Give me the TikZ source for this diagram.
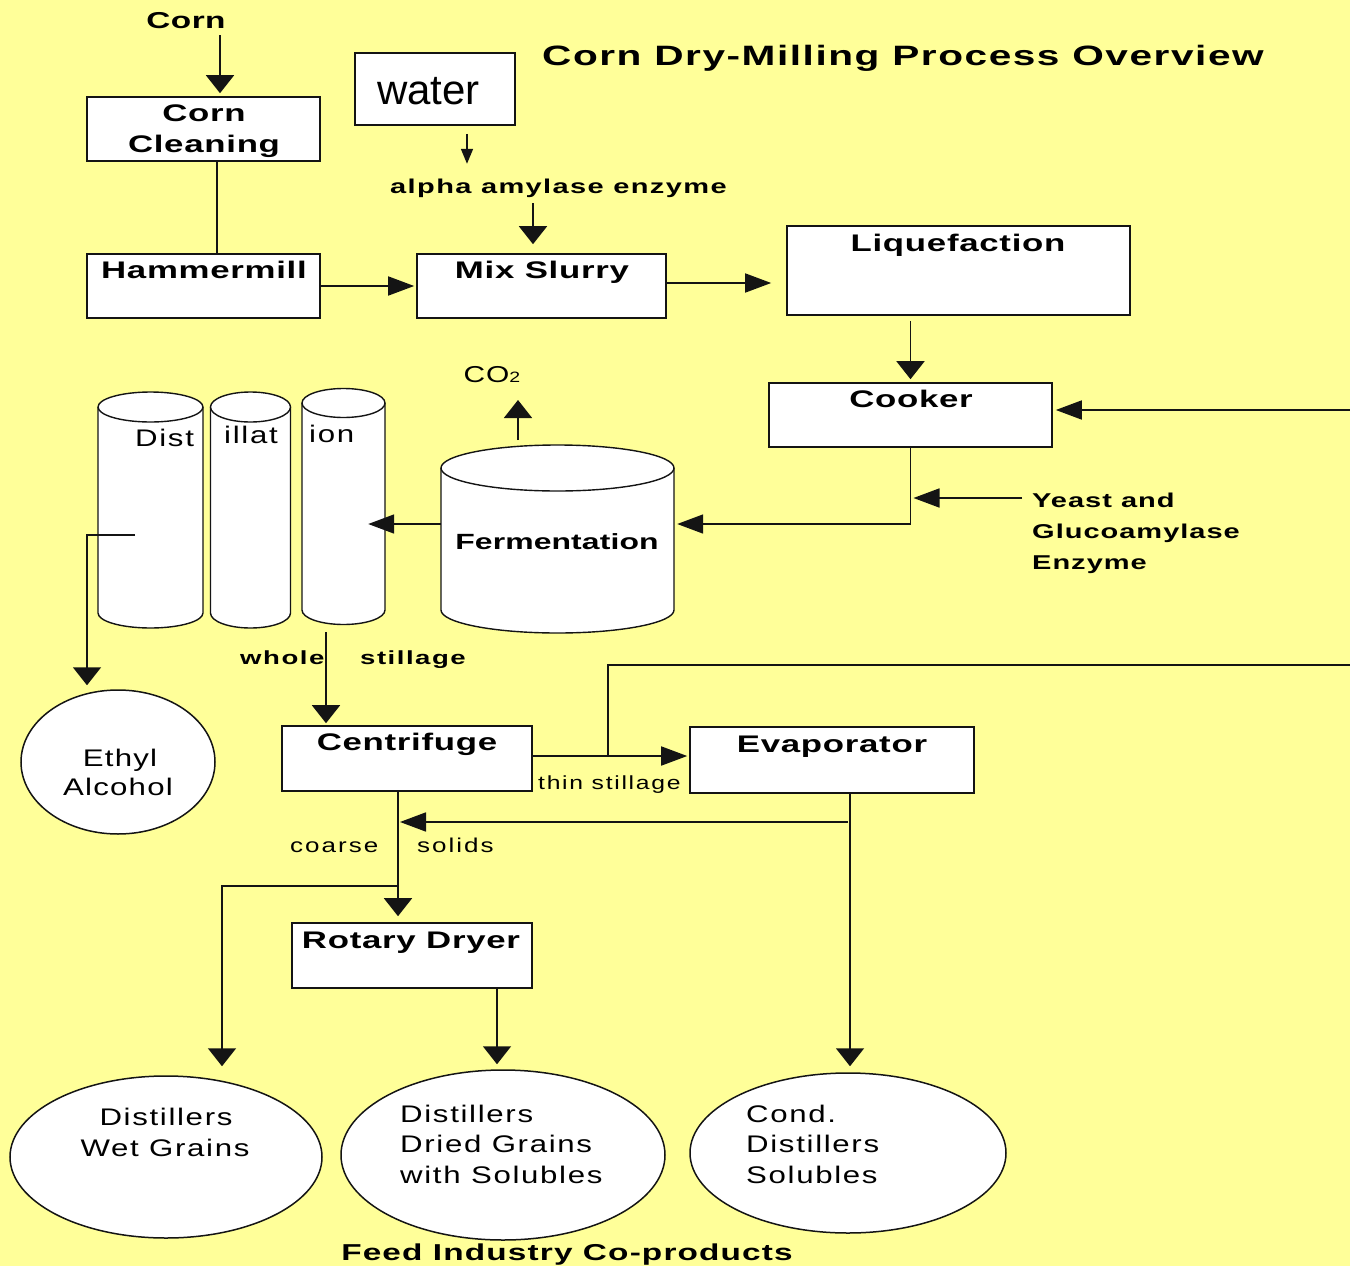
\documentclass[tikz,border=0pt]{standalone}
\usepackage{fontspec}
\setmainfont{Liberation Sans}
\newfontfamily\boldwide{Liberation Sans}[FakeStretch=1.45]
\newfontfamily\regwide{Liberation Sans}[FakeStretch=1.3]
\usetikzlibrary{arrows.meta,shapes.geometric,calc}
\definecolor{bg}{RGB}{255,255,153}
\definecolor{ln}{RGB}{20,20,20}
\newcommand\fb[2]{\fontsize{#1}{#1}\boldwide\bfseries\addfontfeatures{LetterSpace=#2}}
\newcommand\fr[2]{\fontsize{#1}{#1}\regwide\addfontfeatures{LetterSpace=#2}}
\newcommand\cylshape[5]{%
  \fill[white] (#1-#2,#3) rectangle (#1+#2,#4);
  \fill[white] (#1,#4) ellipse[x radius=#2,y radius=#5];
  \draw[cylline] (#1-#2,#3) -- (#1-#2,#4) arc[start angle=180,end angle=0,x radius=#2,y radius=#5] -- (#1+#2,#3);
  \draw[cylline,fill=white] (#1,#3) ellipse[x radius=#2,y radius=#5];
}
\begin{document}
\begin{tikzpicture}[x=1pt,y=-1pt,
  box/.style={draw=ln,fill=white,line width=1.6pt,inner sep=0pt},
  oval/.style={ellipse,draw=ln,fill=white,line width=1.5pt,inner sep=0pt},
  cylline/.style={draw=ln,line width=1.4pt},
  con/.style={draw=ln,line width=1.7pt},
  varr/.style={con,-{Triangle[length=18pt,width=28pt]}},
  harr/.style={con,-{Triangle[length=26pt,width=19pt]}},
  sarr/.style={con,-{Triangle[length=15pt,width=12pt]}},
  txt/.style={inner sep=0pt,anchor=base,text=black},
  ltxt/.style={inner sep=0pt,anchor=base west,text=black},
  bl/.style={txt,font=\fb{24}{3}},
]
\useasboundingbox (0,0) rectangle (1350,1266);
\fill[bg] (0,0) rectangle (1350,1266);

% cylinders
\cylshape{150.5}{52.5}{407}{613}{15}
\cylshape{250.5}{40}{407}{613}{15}
\cylshape{343.5}{41.5}{403}{610}{14.5}
\cylshape{557.5}{116.5}{468}{610}{23}
\node[inner sep=0pt,minimum width=105pt,minimum height=236pt] (d1) at (150.5,510) {};
\node[inner sep=0pt,minimum width=80pt,minimum height=236pt] (d2) at (250.5,510) {};
\node[inner sep=0pt,minimum width=83pt,minimum height=236pt] (d3) at (343.5,524) {};
\node[inner sep=0pt,minimum width=233pt,minimum height=188pt] (ferm) at (557.5,524) {};

% boxes
\node[box,minimum width=233pt,minimum height=64pt] (cc) at (203.5,129) {};
\node[box,minimum width=233pt,minimum height=64pt] (hm) at (203.5,286) {};
\node[box,minimum width=249pt,minimum height=64pt] (ms) at (541.5,286) {};
\node[box,minimum width=160pt,minimum height=72pt] (water) at (435,89) {};
\node[box,minimum width=343pt,minimum height=89pt] (liq) at (958.5,270.5) {};
\node[box,minimum width=283pt,minimum height=64pt] (cook) at (910.5,415) {};
\node[box,minimum width=250pt,minimum height=65pt] (cent) at (407,758.5) {};
\node[box,minimum width=284pt,minimum height=66pt] (evap) at (832,760) {};
\node[box,minimum width=240pt,minimum height=65pt] (rd) at (412,955.5) {};

% ellipses
\node[oval,minimum width=194pt,minimum height=144pt] (eth) at (118,762) {};
\node[oval,minimum width=312pt,minimum height=162pt] (wet) at (166,1157) {};
\node[oval,minimum width=324pt,minimum height=170pt] (dry) at (503,1155) {};
\node[oval,minimum width=316pt,minimum height=160pt] (cond) at (848,1153) {};

% free ends
\coordinate (cornA) at (220,35);
\coordinate (alA) at (533,203);
\coordinate (rin) at (1350,410);
\coordinate (ys) at (1022,498);
\coordinate (co2A) at (518,440);
\coordinate (d1o) at (135,535);
\coordinate (d1c) at (87,535);
\coordinate (d3o) at (326,632);
\coordinate (rin2) at (1350,665);
\coordinate (tj) at (608,756);
\coordinate (ej) at (848,822);
\coordinate (wj) at (398,886);
\coordinate (wk) at (222,886);

% connectors
\draw[varr,shorten >=3pt] (cornA) -- (cornA |- cc.north);
\draw[con] ([xshift=13.5pt]cc.south) -- ([xshift=13.5pt]hm.north);
\draw[harr,shorten >=2pt] (hm.east) -- (ms.west);
\draw[sarr] ([xshift=32pt,yshift=-8pt]water.south) -- ++(0,30);
\draw[varr,shorten >=9pt] (alA) -- (alA |- ms.north);
\draw[harr,shorten >=15pt] ([yshift=3pt]ms.east) -- ([yshift=3pt]ms.east -| liq.west);
\draw[varr,shorten <=5pt,shorten >=3pt] (cook.north |- liq.south) -- (cook.north);
\draw[harr,shorten >=3pt] (rin) -- (rin -| cook.east);
\draw[harr,shorten >=3pt] (cook.south) |- (ferm.east);
\draw[harr,shorten >=3pt] (ys) -- (ys -| cook.south);
\draw[varr] (co2A) -- ++(0,-40);
\draw[harr,shorten >=-17pt] (ferm.west) -- (d3.east);
\draw[varr,shorten >=4pt] (d1o) -- (d1c) -- (d1c |- eth.north);
\draw[varr,shorten >=2pt] (d3o) -- (d3o |- cent.north);
\draw[harr,shorten >=2pt] ([yshift=2.5pt]cent.east) -- ([yshift=2.5pt]cent.east -| evap.west);
\draw[con] (rin2) -| (tj);
\draw[varr,shorten >=6pt] ([xshift=-9pt]cent.south) -- ([xshift=-9pt]cent.south |- rd.north);
\draw[harr] (ej) -- ([xshift=-7pt]cent.south |- ej);
\draw[varr,shorten >=9pt] (wj) -- (wk) -- (wk |- wet.north);
\draw[varr,shorten >=5pt] ([xshift=85pt]rd.south) -- ([xshift=85pt]rd.south |- dry.north);
\draw[varr,shorten >=6pt] ([xshift=18pt]evap.south) -- ([xshift=18pt]evap.south |- cond.north);

% texts
\node[ltxt,font=\fb{28}{5.5}] (title) at (542,65) {Corn Dry-Milling Process Overview};
\node[txt,font=\fb{23}{2}] (cornT) at (186,28) {Corn};
\node[bl] (ccA) at (204,121) {Corn};
\node[bl] (ccB) at (204,152) {Cleaning};
\node[bl] (hmT) at (204,278) {Hammermill};
\node[bl] (msT) at (542,278) {Mix Slurry};
\node[ltxt,font=\fontsize{42}{42}\selectfont] (wt) at (377,104) {water};
\node[ltxt,font=\fb{20}{7}] (alpha) at (390,193) {alpha amylase enzyme};
\node[bl] (liqT) at (958,251) {Liquefaction};
\node[bl] (cookT) at (911,407) {Cooker};
\node[ltxt,font=\fb{20}{5}] (yeA) at (1032,507) {Yeast and};
\node[ltxt,font=\fb{20}{5}] (yeB) at (1032,538) {Glucoamylase};
\node[ltxt,font=\fb{20}{5}] (yeC) at (1032,569) {Enzyme};
\node[txt,font=\fr{23}{4}] (co2) at (492,382) {CO{\fontsize{15}{15}\selectfont 2}};
\node[ltxt,font=\fr{24}{7}] (dT1) at (135,446) {Dist};
\node[ltxt,font=\fr{24}{7}] (dT2) at (224,443) {illat};
\node[ltxt,font=\fr{24}{7}] (dT3) at (309,442) {ion};
\node[txt,font=\fb{22}{0.5}] (fermT) at (557,549) {Fermentation};
\node[ltxt,font=\fb{19}{8}] (wsA) at (240,664) {whole};
\node[ltxt,font=\fb{19}{8}] (wsB) at (360,664) {stillage};
\node[txt,font=\fr{24}{5}] (ethA) at (120,766) {Ethyl};
\node[txt,font=\fr{24}{5}] (ethB) at (118,795) {Alcohol};
\node[bl] (centT) at (407,750) {Centrifuge};
\node[bl] (evapT) at (832,752) {Evaporator};
\node[ltxt,font=\fr{19}{9}] (thin) at (538,789) {thin stillage};
\node[ltxt,font=\fr{20}{10}] (coarse) at (290,852) {coarse};
\node[ltxt,font=\fr{20}{10}] (solids) at (417,852) {solids};
\node[bl] (rdT) at (411,948) {Rotary Dryer};
\node[txt,font=\fr{24}{7}] (wetA) at (166,1125) {Distillers};
\node[txt,font=\fr{24}{7}] (wetB) at (165,1156) {Wet Grains};
\node[ltxt,font=\fr{24}{7}] (dryA) at (400,1122) {Distillers};
\node[ltxt,font=\fr{24}{7}] (dryB) at (400,1152) {Dried Grains};
\node[ltxt,font=\fr{24}{7}] (dryC) at (400,1183) {with Solubles};
\node[ltxt,font=\fr{24}{7}] (condA) at (746,1122) {Cond.};
\node[ltxt,font=\fr{24}{7}] (condB) at (746,1152) {Distillers};
\node[ltxt,font=\fr{24}{7}] (condC) at (746,1183) {Solubles};
\node[txt,font=\fb{23}{5}] (feed) at (567,1260) {Feed Industry Co-products};
\end{tikzpicture}
\end{document}
